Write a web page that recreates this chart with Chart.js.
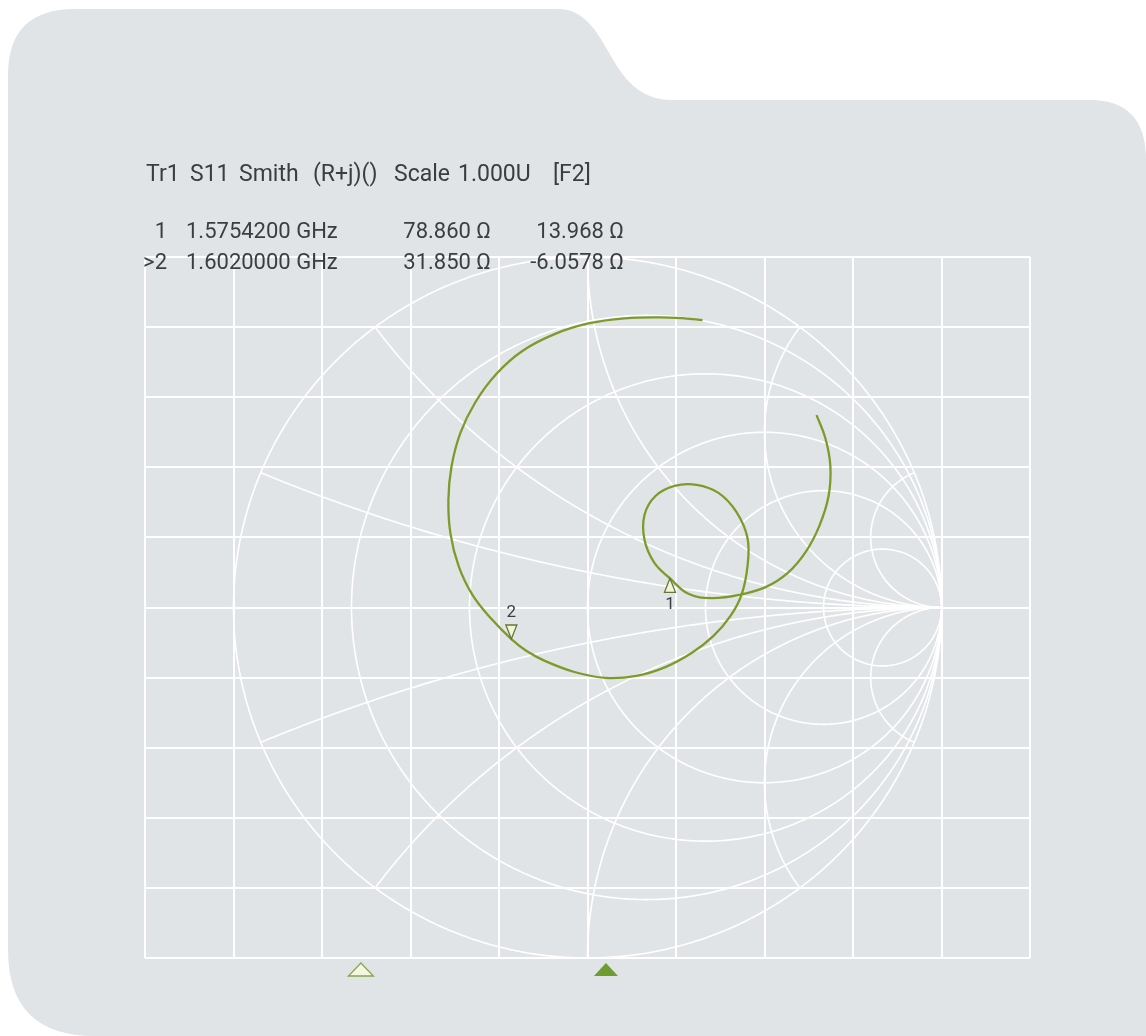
<!DOCTYPE html>
<html>
<head>
<meta charset="utf-8">
<script src="https://cdn.jsdelivr.net/npm/chart.js@4.4.1/dist/chart.umd.min.js"></script>
<style>
  html, body { margin: 0; padding: 0; background: #fff; }
  #wrap { position: relative; width: 1146px; height: 1036px; overflow: hidden; }
  #smith { position: absolute; left: 0; top: 0; }
  .txt { position: absolute; font-family: Roboto, "DejaVu Sans", sans-serif; font-size: 22px; line-height: 22px; color: #3b3e41; white-space: pre; }
  .title { font-size: 23px; }
</style>
</head>
<body>
<div id="wrap">
  <canvas id="smith" width="1146" height="1036"></canvas>
</div>
<script>
'use strict';

// trace header
const traceTitle = ['Tr1', 'S11', 'Smith', '(R+j)()', 'Scale', '1.000U', '[F2]'];

// marker table
const markerNo = [1, 2];
const markerFreq = [1.57542, 1.602];   // GHz
const markerR = [78.860, 31.850];      // Ohm
const markerX = [13.968, -6.0578];     // Ohm
const activeMarker = 2;
const z0 = 50;

// stimulus span (bottom marker strip)
const sweepStart = 1.552;
const sweepStop = 1.648;

// S11 trace as reflection coefficient
const traceRe = [0.647, 0.672, 0.686, 0.681, 0.655, 0.616, 0.565, 0.503, 0.429, 0.350,
    0.285, 0.233, 0.189, 0.161, 0.161, 0.192, 0.246, 0.308, 0.370, 0.421,
    0.452, 0.452, 0.435, 0.404, 0.356, 0.294, 0.220, 0.138, 0.051, -0.037,
    -0.119, -0.172, -0.215, -0.271, -0.325, -0.364, -0.387, -0.393, -0.384, -0.359,
    -0.316, -0.257, -0.184, -0.093, 0.006, 0.105, 0.203, 0.274, 0.325];
const traceIm = [0.549, 0.483, 0.404, 0.318, 0.233, 0.158, 0.098, 0.058, 0.036, 0.027,
    0.039, 0.083, 0.127, 0.193, 0.264, 0.318, 0.347, 0.350, 0.327, 0.272,
    0.198, 0.118, 0.036, -0.024, -0.081, -0.130, -0.170, -0.195, -0.201, -0.184,
    -0.153, -0.124, -0.090, -0.033, 0.036, 0.118, 0.210, 0.307, 0.403, 0.498,
    0.587, 0.667, 0.732, 0.780, 0.811, 0.825, 0.828, 0.825, 0.820];

// Smith grid
const resistanceCircles = [0, 0.2, 0.5, 1, 2, 5];
const reactanceArcs = [0.2, 0.5, 1, 2, 5];

// normalised impedance -> reflection coefficient
function toGamma(r, x) {
    const den = (r + 1) * (r + 1) + x * x;
    return [(r * r + x * x - 1) / den, (2 * x) / den];
}

// header text
const wrap = document.getElementById('wrap');
function put(text, x, baseline, align, cls) {
    const el = document.createElement('div');
    el.className = 'txt' + (cls ? ' ' + cls : '');
    el.textContent = text;
    el.style.top = (baseline - 18.5) + 'px';
    if (align === 'right') {
        el.style.left = (x - 300) + 'px';
        el.style.width = '300px';
        el.style.textAlign = 'right';
    } else {
        el.style.left = x + 'px';
    }
    wrap.appendChild(el);
}

const titleX = [146, 190, 239, 313, 394, 458, 553];
traceTitle.forEach((t, i) => put(t, titleX[i], 181, 'left', 'title'));

const rowBase = [238, 269];
markerNo.forEach((n, i) => {
    if (n === activeMarker) put('>', 143, rowBase[i]);
    put(String(n), 167, rowBase[i], 'right');
    put(markerFreq[i].toFixed(7) + ' GHz', 186, rowBase[i]);
    put(markerR[i].toFixed(3) + ' \u03A9', 491, rowBase[i], 'right');
    put(markerX[i].toPrecision(5) + ' \u03A9', 624, rowBase[i], 'right');
});

const panel = {
    id: 'panel',
    beforeDraw(chart) {
        const ctx = chart.ctx;
        ctx.save();
        ctx.fillStyle = '#e1e4e6';
        ctx.beginPath();
        ctx.moveTo(8, 75);
        ctx.quadraticCurveTo(8, 9, 75, 9);
        ctx.lineTo(558, 9);
        ctx.bezierCurveTo(612, 9, 605, 100, 672, 100);
        ctx.lineTo(1090, 100);
        ctx.quadraticCurveTo(1146, 100, 1146, 160);
        ctx.lineTo(1146, 1036);
        ctx.lineTo(95, 1036);
        ctx.quadraticCurveTo(8, 1036, 8, 950);
        ctx.closePath();
        ctx.fill();
        ctx.restore();
    }
};

const smithGrid = {
    id: 'smithGrid',
    beforeDatasetsDraw(chart) {
        const { ctx, scales: { x, y } } = chart;
        const stroke = pts => {
            ctx.beginPath();
            pts.forEach(([gx, gy], i) => {
                const px = x.getPixelForValue(gx), py = y.getPixelForValue(gy);
                if (i) ctx.lineTo(px, py); else ctx.moveTo(px, py);
            });
            ctx.stroke();
        };
        ctx.save();
        ctx.strokeStyle = '#ffffff';
        ctx.lineWidth = 1.6;
        resistanceCircles.forEach(r => {
            const pts = [];
            for (let i = 1; i < 720; i++) pts.push(toGamma(r, Math.tan((i / 720 - 0.5) * Math.PI)));
            stroke(pts);
        });
        reactanceArcs.forEach(xv => {
            [xv, -xv].forEach(xs => {
                const pts = [];
                for (let i = 0; i < 400; i++) {
                    const s = i / 400;
                    pts.push(toGamma(s / (1 - s), xs));
                }
                pts.push([1, 0]);
                stroke(pts);
            });
        });
        ctx.restore();
    }
};

function triangle(ctx, cx, tipY, w, h, dir, fill, line) {
    ctx.beginPath();
    ctx.moveTo(cx, tipY);
    ctx.lineTo(cx - w / 2, tipY + dir * h);
    ctx.lineTo(cx + w / 2, tipY + dir * h);
    ctx.closePath();
    if (fill) { ctx.fillStyle = fill; ctx.fill(); }
    if (line) { ctx.strokeStyle = line; ctx.lineWidth = 1.3; ctx.stroke(); }
}

const markers = {
    id: 'markers',
    afterDatasetsDraw(chart) {
        const { ctx, chartArea, scales: { x, y, f } } = chart;
        ctx.save();
        ctx.font = '17px Roboto, sans-serif';
        ctx.textAlign = 'center';
        ctx.textBaseline = 'middle';
        markerNo.forEach((n, i) => {
            const [gx, gy] = toGamma(markerR[i] / z0, markerX[i] / z0);
            const px = x.getPixelForValue(gx), py = y.getPixelForValue(gy);
            // on-trace marker: first below the trace, second above
            const dir = i === 0 ? 1 : -1;
            triangle(ctx, px, py, 11, 14, dir, '#f1f5d6', '#66763a');
            ctx.fillStyle = '#3b3e41';
            ctx.fillText(String(n), px, py + dir * 26);
            // stimulus marker under the diagram
            const sx = f.getPixelForValue(markerFreq[i]);
            const active = n === activeMarker;
            triangle(ctx, sx, chartArea.bottom + 5, active ? 24 : 25, 13, 1,
                active ? '#6f9c2e' : '#f3f7df', active ? null : '#88a552');
        });
        ctx.restore();
    }
};

new Chart(document.getElementById('smith'), {
    type: 'scatter',
    data: {
        datasets: [{
            label: 'S11',
            data: traceRe.map((re, i) => ({ x: re, y: traceIm[i] })),
            showLine: true,
            tension: 0.4,
            borderColor: '#7d9b2b',
            borderWidth: 2.3,
            pointRadius: 0,
            xAxisID: 'x',
            yAxisID: 'y'
        }]
    },
    options: {
        responsive: false,
        animation: false,
        devicePixelRatio: 1,
        layout: { padding: { left: 145, right: 116, top: 257, bottom: 78 } },
        plugins: { legend: { display: false }, tooltip: { enabled: false } },
        scales: {
            x: {
                type: 'linear', min: -1.25, max: 1.25,
                ticks: { display: false, stepSize: 0.25 },
                grid: { color: '#ffffff', lineWidth: 2, drawTicks: false },
                border: { display: false }
            },
            y: {
                type: 'linear', min: -1, max: 1,
                ticks: { display: false, stepSize: 0.2 },
                grid: { color: '#ffffff', lineWidth: 2, drawTicks: false },
                border: { display: false }
            },
            f: { type: 'linear', axis: 'x', display: false, min: sweepStart, max: sweepStop }
        }
    },
    plugins: [panel, smithGrid, markers]
});
</script>
</body>
</html>
